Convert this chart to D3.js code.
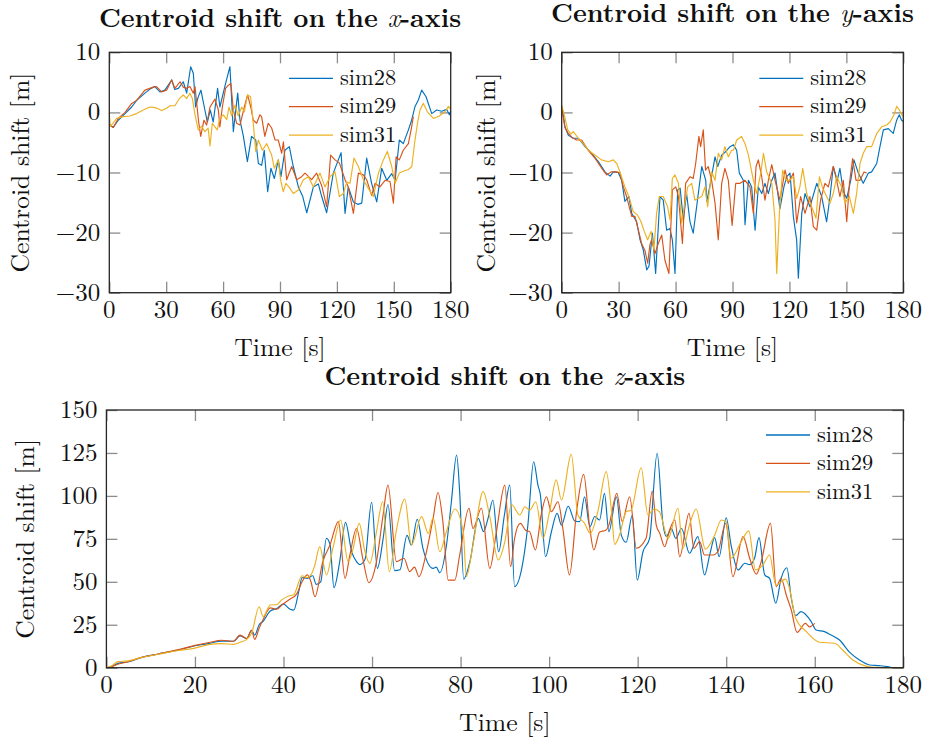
<!DOCTYPE html>
<html>
<head>
<meta charset="utf-8">
<script src="https://cdn.jsdelivr.net/npm/d3@7"></script>
<style>
  html, body { margin: 0; padding: 0; background: #fff; }
</style>
</head>
<body>
<svg id="chart" width="927" height="741"></svg>
<script>
// ---- Series names and colours ----
const seriesNames = ["sim28", "sim29", "sim31"];
const seriesColors = ["#0072BD", "#D95319", "#EDB120"];

// ---- Tick values ----
const topTimeTicks = [0, 30, 60, 90, 120, 150, 180];
const topShiftTicks = [10, 0, -10, -20, -30];
const bottomTimeTicks = [0, 20, 40, 60, 80, 100, 120, 140, 160, 180];
const bottomShiftTicks = [0, 25, 50, 75, 100, 125, 150];

// ---- Centroid shift along x: [time s, shift m] ----
const xShift28 = [[0,-2],[2.1,-2.5],[4.7,-1.3],[8.3,-0.2],[11.8,0.9],[14.4,2],[18.8,3.2],[22,4],[24,4.3],[26.7,3.4],[29.3,3.7],[31,4.5],[32.9,5.4],[34.5,3.8],[36.4,4],[39,5.1],[40.8,3.2],[42.9,7.6],[44.3,6.5],[45.5,0.9],[46.8,2.5],[48.3,3.7],[50.4,0.4],[51.7,-1.6],[53.2,0.4],[54.8,-1.6],[57.1,4],[58.3,0.9],[61.3,4.8],[63.6,7.6],[65.4,-3.2],[67.7,3.2],[68.9,-1.3],[70.7,-4],[72.8,-8.2],[75,-4],[77.2,-4.6],[78.6,-8.5],[80.3,-8.8],[81.7,-6.3],[83.5,-13.2],[85.2,-9.3],[87,-11],[89.1,-7.9],[90.5,-10.7],[92.6,-6.3],[94.9,-5.7],[97,-9],[99.7,-12.4],[102,-14],[104.1,-16.7],[107.6,-12.4],[110.2,-11.9],[112,-14],[114.6,-16.7],[118.1,-10.1],[122.2,-6.7],[124.3,-16.8],[126,-12.4],[128.7,-14.9],[131,-15.3],[133.1,-15.1],[135.7,-7.6],[138.3,-11.8],[141,-14.9],[143.6,-9.3],[146.3,-11.3],[148.9,-10.2],[150.7,-11.3],[152.9,-4.6],[155,-5.2],[157.7,-2.9],[159.4,-1.3],[161.2,1],[163,2.1],[164.7,3.7],[167,2.6],[170,-0.2],[172.6,0.4],[175.3,0.2],[177.9,0.5],[179.3,-0.4],[180,0.2]];
const xShift29 = [[0,-2],[2.1,-2.5],[4.7,-1],[8.3,0],[11.8,1.5],[14.4,2],[18.8,3.7],[23.2,4.2],[24.9,4.3],[27.6,3.4],[30.2,3.7],[32.9,5.4],[34.6,4],[37.3,5.1],[39,4.2],[40.8,4],[42.5,4.3],[44.3,3.2],[45.2,4.3],[47,-1.3],[48.2,-4],[49.9,-1.3],[51.3,-2.1],[53.1,0.9],[55.7,2.2],[57.5,0.4],[58.3,-2.4],[59.6,0.9],[61.3,4],[62.7,4.5],[64.1,4.8],[65.4,0.4],[67.1,-1.8],[68.9,-2.1],[71.2,0.9],[72.9,2.9],[74.6,0.9],[75.9,-1.3],[77.7,-1.8],[79.4,-0.4],[80.3,-0.7],[82,-4],[83.8,-1.8],[85.6,-2.6],[87.4,-4.6],[89.1,-4.6],[90.9,-6.8],[91.8,-4.9],[93.5,-11.2],[96.2,-9],[98.8,-11.2],[101.4,-10.7],[103.2,-10.1],[106.7,-11.2],[109.3,-10.1],[112,-12.2],[114.6,-15.7],[116.7,-7.1],[119,-7.9],[121.3,-8.4],[124.3,-11.2],[126,-12.4],[128.7,-16.8],[131.3,-10.1],[133.9,-10.4],[135.7,-11.2],[138.3,-13.8],[140.1,-11.8],[142.7,-12.4],[145.4,-11.3],[148,-11.5],[149.8,-15.1],[151.2,-7.4],[152.9,-7.9],[155,-6.3],[157.7,-5.2],[159.4,-2.4],[160.3,-0.7]];
const xShift31 = [[0,0],[0.5,-2.3],[1.2,-2.1],[3.9,-1],[7.4,-0.7],[10.9,-0.6],[14.4,-0.2],[17.9,0.4],[21.4,0.9],[24.1,0.8],[25.8,0.6],[27.6,0.3],[30.2,0.7],[32,1.1],[34.6,1.1],[36.7,2.2],[39,2.9],[40.8,2.3],[42.5,3.2],[43.8,2.3],[45.2,-0.4],[46.9,-2.9],[48.7,-2.3],[50.4,-3.2],[52.1,-2.6],[53.1,-5.6],[54.3,-1.8],[55.7,-2.4],[56.9,-2.9],[58.3,-1],[60.1,-0.4],[61.9,-1.2],[63.1,0.9],[64.5,-0.6],[66.3,1.2],[68,-0.6],[69.8,0.9],[71.2,0.1],[72.9,2.9],[74.5,2.6],[75.9,-1.8],[77.2,-6.5],[78.6,-4.6],[80.7,-6.3],[83,-5.2],[85.6,-7.1],[87,-9.3],[89.1,-7.9],[90.3,-11.2],[91.7,-13.2],[93.1,-11.8],[95.2,-12.6],[97,-13.5],[99.7,-12.9],[102.3,-11.2],[105,-10.7],[107.6,-12.4],[111.1,-10.1],[113.7,-12.4],[116.4,-10.7],[119,-9.9],[121.3,-14],[123.4,-13.5],[125.2,-11.6],[126.9,-11.8],[129,-7.6],[131.3,-9],[134,-11.2],[136.1,-12.4],[139.2,-14],[141.9,-10.1],[144.5,-7.9],[146.6,-6.5],[148.9,-9],[150.7,-11.8],[152.9,-10.1],[155,-9.8],[157.7,-9.5],[159.5,-9],[161,-5],[162.5,-1.8],[163.8,0.4],[165.6,1.5],[167.7,0.1],[170.9,-1],[174,-0.6],[177,0.1],[178.8,1],[180,0.5]];

// ---- Centroid shift along y: [time s, shift m] ----
const yShift28 = [[0,1],[0.9,-0.5],[1.7,-2.4],[3.5,-3.8],[6.1,-4.3],[8.8,-4.3],[12.3,-5.7],[15.8,-6.8],[19.3,-8.2],[22.8,-9.9],[25.5,-10.6],[27.2,-9.9],[29.8,-10],[31.6,-11.3],[33.3,-14.8],[35.4,-14],[36.9,-16.8],[39.5,-18.2],[41.3,-21.2],[43,-22.9],[44.8,-26.2],[46,-25.6],[47.8,-20.1],[49.5,-26.8],[51.8,-14],[53.5,-14.6],[55.3,-19.6],[57,-19.3],[58.3,-21.2],[59.7,-26.8],[61.1,-12.9],[62.4,-12.6],[64.1,-17.9],[65.8,-13.5],[67.6,-18.2],[69.3,-20.1],[71.1,-15.7],[73.8,-9],[75.9,-11.3],[76.4,-14.8],[78,-12.4],[80.8,-7.4],[82.2,-9],[84.3,-7.1],[86.5,-6.5],[88.7,-5.7],[90.5,-5.4],[92.2,-6.3],[93.6,-10.1],[95.7,-11.3],[96.6,-18.7],[98.4,-11.3],[100.1,-12.4],[101.9,-19.6],[103.6,-12.4],[105.4,-13.5],[107.1,-11.8],[108.9,-13.5],[110.7,-11.3],[112.4,-10.1],[115,-16],[117.1,-12.4],[118.6,-10.7],[120.3,-10.1],[122.1,-17.4],[123.8,-21.2],[124.7,-27.6],[126.5,-16.8],[128.2,-13.5],[130.8,-15.7],[134.4,-11.8],[137,-14],[139.6,-18.2],[141.4,-14],[143.1,-9],[145.2,-11.3],[146.6,-9.3],[148.4,-13.2],[150.2,-14.3],[152.3,-11.3],[154,-7.9],[156.3,-10.1],[158.9,-11.8],[161.6,-10.1],[163.3,-9.9],[166,-8.5],[167.7,-5.7],[169.5,-2.9],[172.1,-2.7],[174.7,-3.5],[176.5,-1.3],[177.9,-0.4],[179.1,-1.3],[180,-1.5]];
const yShift29 = [[0,0.7],[0.9,-1],[1.7,-2.5],[3.5,-3.5],[5.5,-4.2],[7.9,-4.6],[10.5,-4.6],[14,-6.3],[17.5,-7.6],[21.1,-9.3],[23.7,-10.4],[26,-9.9],[29,-9.9],[30.7,-10.1],[32.5,-12.4],[34.2,-14],[36.9,-17.3],[38.6,-17.3],[40.4,-19.6],[42.1,-21.8],[43.9,-23],[45.3,-25.1],[46.5,-22],[47.4,-21.2],[49.2,-23.5],[50.9,-21.8],[52.7,-20.4],[54.4,-24.6],[56.5,-26.8],[58.3,-12.9],[60.1,-12.4],[61.5,-14],[63.6,-21.8],[65.3,-11.8],[67.6,-10.7],[69.3,-11],[70.6,-8.5],[72.3,-4],[73.2,-5.7],[74.6,-2.9],[75.8,-9.6],[77.2,-9],[79,-11.3],[80.8,-15.1],[82.5,-21.2],[84.3,-11.8],[86,-9.3],[87.8,-11.3],[89.8,-18.8],[91.7,-11.8],[94,-11.8],[96.6,-11.3],[99.2,-12.4],[101,-16.8],[102.4,-9],[103.6,-7.9],[105.4,-10.7],[107.1,-14.6],[108.9,-11.3],[110.7,-8.7],[112.4,-11.3],[115,-14.6],[117.7,-9.6],[119.4,-11.8],[122.1,-10.1],[123.8,-18.4],[125.9,-14],[128.2,-16.8],[130.8,-14],[132.6,-19],[134.4,-19.6],[136.4,-14.6],[138.7,-11.8],[140.5,-12.4],[143.1,-9],[144.9,-11.3],[146.6,-14],[148.4,-11.3],[150.2,-18.2],[151.6,-11.9],[153.3,-7.7],[155.1,-11.3],[157.2,-11.3],[159.3,-9.9],[160.7,-10.1]];
const yShift31 = [[0,1.2],[1.4,-0.5],[3.2,-2.9],[4.9,-3.6],[6.1,-3.2],[8.8,-4.3],[11.4,-5.2],[14,-6.3],[17.5,-7.1],[21,-7.9],[24.6,-8.2],[27.2,-7.9],[29,-8.5],[30.7,-9.9],[33.3,-12.4],[35.4,-14],[37.7,-16.5],[40,-17.1],[41.8,-18.2],[43.5,-19.8],[45.3,-21.2],[47.1,-19.8],[48.6,-22.9],[50,-16.8],[51.4,-14],[53.5,-14],[55.8,-15.7],[57.1,-17.9],[58.3,-11],[59.7,-10.4],[61.5,-11.8],[63.2,-18.4],[64.6,-15.7],[66.4,-12.4],[68.5,-11.8],[70.2,-14.6],[72,-14.3],[73.8,-14],[75.5,-12.4],[76.9,-15.7],[79,-9.9],[80.8,-11.3],[82.5,-6.8],[84.3,-7.9],[86,-5.7],[87.8,-7.4],[89.5,-6.3],[90.5,-6.3],[92.2,-4.6],[94.8,-4],[96.6,-5.2],[98.4,-7.1],[101,-11.3],[102.7,-13.5],[104.9,-10.1],[106.3,-6.8],[108,-9.9],[110.7,-11.8],[112.4,-17.9],[113.3,-26.8],[114.7,-16.8],[116.4,-9.6],[118.3,-11.3],[120,-11.3],[122.1,-10.7],[123.8,-14.3],[125.5,-12.4],[127,-9.3],[129.1,-13.5],[131.7,-15.7],[134,-17.6],[135.8,-10.7],[137.5,-12.6],[139.6,-14],[141.4,-15.1],[143.1,-13.5],[144.9,-10.7],[147.5,-12.4],[149.3,-15.1],[151.6,-14],[153.7,-16.8],[155.4,-13.5],[157.2,-8.5],[158.9,-6.8],[160.7,-5.7],[163.3,-5.7],[166,-3.5],[168.6,-2.4],[171.2,-2.1],[173,-1.6],[175.1,-0.4],[176.5,1],[177.9,0.4],[179.7,-0.7]];

// ---- Centroid shift along z: [time s, shift m] ----
const zShift28 = [[0,0],[1,0.5],[2.6,2.5],[5,3.5],[8,6],[11.7,8],[16.3,10.3],[20,12.8],[23,14],[26,15.5],[28.7,15.4],[30.2,18.5],[31.7,17],[32.8,21.7],[33.5,19],[34.5,25],[35.4,27],[37,33],[38.5,34.5],[40,37],[41.5,34],[42.3,33.5],[43.5,45],[44.2,52.4],[45.4,52],[46.6,53.5],[47.4,48.5],[48.4,50],[49.7,75.3],[50.5,72],[51.4,46.6],[52.7,61.7],[54,84.6],[55.4,67.5],[56.5,61.7],[57.2,60],[58.4,63],[59.9,96.3],[61.2,57.8],[62.5,75],[63.6,95],[65.1,56.5],[66.3,57],[67.9,77],[68.9,71.4],[70.2,86.4],[71.5,69.5],[73.8,57.8],[74.5,58.5],[75.3,55.3],[76.8,71],[77.9,96],[79.1,123.8],[79.8,102],[80.7,51.6],[82.1,61.7],[84,86.9],[85.2,79.2],[86.2,86.9],[87.3,97.6],[88.6,67.5],[89.9,88.9],[91.1,106.3],[92.2,47.2],[94.1,61.7],[95.2,83],[96.5,119.9],[97.5,106],[98,101],[99.2,64.6],[100.5,79],[101.8,89.8],[102.8,83],[104.3,94],[105.8,85.4],[106.9,85],[108,99.5],[109.2,82],[110.3,88],[111.4,86],[112.5,101.5],[113.5,79.2],[115.2,99.5],[116.3,77.2],[117.4,73],[118.8,88.9],[119.9,51],[121.2,67.5],[122.7,75.3],[124.4,124.8],[125.7,84],[126.5,76.3],[127.6,81],[128.6,75.3],[129.9,81],[131.7,66.6],[133.6,76.3],[135.1,54],[136.3,66],[137.4,75.7],[138.4,64.6],[140,87.3],[141.1,71.4],[142.7,56.9],[144.2,60.8],[145.3,60],[146.4,63.7],[147.4,75.7],[148.7,54],[149.8,52],[151.2,37.5],[152.4,52],[153.7,58.2],[154.7,40.4],[155.7,30.3],[156.9,32.6],[159.2,26.8],[160.3,21.9],[162.2,21],[163.7,19],[165.6,16.1],[167.9,8.9],[170.1,4.5],[172.4,1.6],[174.6,1.2],[176.5,0.6],[177.6,0],[180,0]];
const zShift29 = [[0,0],[1,0.5],[2.6,2],[5,3.5],[8,6],[11.7,8],[16.3,10.5],[20,13],[23.4,14.8],[26,16],[28.7,15.4],[30.2,19],[31.7,17],[32.8,21.7],[33.5,16.5],[34.5,23],[35.4,28],[37,34.8],[38.5,34],[39.6,36.5],[41.5,40],[43,43],[44.2,50],[45.4,54],[46.2,50],[47.1,41.3],[48.9,62],[50.5,71.4],[52.4,85],[53.9,52],[55,65.6],[56.5,81],[57.9,63.7],[59.3,49.5],[61,61.7],[62.5,89],[63.6,106.3],[65.5,61.7],[67.2,63.7],[68.5,55.9],[69.6,58.5],[70.6,53],[72.3,67.5],[73.8,87],[74.9,102],[76,85],[77.2,51],[78.7,51],[79.8,65.6],[81.9,92.8],[82.8,81],[84.7,92.8],[86.6,57.8],[88.1,79.2],[90,106.3],[91.3,58.8],[92.2,75.3],[93.5,84],[94.7,80],[95.6,79.2],[96.9,68.5],[98.2,88.9],[99.4,99.5],[100.5,90.8],[102,96.6],[103.1,81],[104.6,54],[106.2,90.8],[107.8,112.5],[109.2,81],[110.1,68.5],[111.4,79],[112.8,80],[113.5,83],[115.3,101.5],[116.5,85],[118.2,99.5],[119.7,69.5],[121.9,75.3],[123.3,102.8],[124.2,83],[125,78.2],[126.1,70.4],[127.2,80],[128.4,86],[129.5,64.6],[131.6,89.8],[132.7,69.5],[134,73.4],[135.1,65.6],[137,65.6],[138.1,67.5],[139.9,84],[141.5,53],[143.8,76.3],[145.3,63.7],[146.8,54.4],[147.9,61.7],[150,84],[151.3,47.2],[152.4,51.9],[153.6,42],[154.7,33.6],[156,20.6],[157.9,25.8],[158.8,23.8],[160,25.8]];
const zShift31 = [[0,0],[1,0.8],[2.6,3.5],[4.9,4],[8,6],[11.7,7.8],[16.3,10],[20,11.4],[23.4,13.6],[26,14],[28.7,13.6],[30.2,14.8],[31.7,16.5],[32.8,20],[34.5,35.5],[35.4,29.7],[37,36.5],[38.5,36.8],[39.6,39.5],[41.5,42],[42.3,42.5],[44.2,53.5],[45.4,52.5],[46.2,54],[47,59],[48.2,70.5],[49.7,54],[51.2,70],[52.9,86],[54.6,61.7],[55.7,69],[57.1,84],[58.4,67.5],[59.5,60.7],[61,79],[62.4,96.6],[63.9,55.9],[65.5,80],[67.4,98.2],[68.9,71.4],[71.2,87.9],[72.7,78.2],[73.8,87.3],[75.3,67.5],[76.8,79.2],[78.7,92.4],[80.6,79.2],[81.3,53],[82.8,71.4],[85.1,102.5],[86.6,87.9],[88.5,62.7],[90,73.4],[91.5,95],[93.4,88.9],[94.5,93.7],[95.6,91.7],[97,96.6],[98.6,75.3],[100.1,90.8],[101.6,109.3],[102.8,97.6],[105,124.2],[106.5,88.9],[108,84],[109.3,78.2],[111,90.8],[112.9,114.1],[114.1,90.8],[114.8,71.8],[115.9,77.2],[117.4,90.8],[118.5,91.7],[120.8,116.4],[122.3,88.9],[123.8,92.4],[124.9,90.8],[126.9,75.3],[129.1,92.8],[130.2,69.5],[131.7,83],[133.2,92.4],[135.3,69],[137.4,77.2],[138.9,86],[140,85],[141.1,63.7],[143.4,73.4],[145.1,79.6],[146.6,56.9],[148.3,59.8],[149.8,65.6],[151.2,48.1],[153.4,51.6],[154.2,47],[155.7,28.7],[158.1,21],[161.1,14.8],[164.5,14.2],[166.3,10.3],[168.6,4.5],[171.2,1.2],[173.1,0.2],[180,0]];

// ---- Panel layout ----
const FONT = '"Latin Modern Roman", "CMU Serif", "Liberation Serif", serif';
const svg = d3.select("#chart");

const panels = [
  { axis: "x", series: [xShift28, xShift29, xShift31], left: 109.3, right: 450.7, top: 52.3, bottom: 292.7,
    xDomain: [0, 180], yDomain: [-30, 10], xTicks: topTimeTicks, yTicks: topShiftTicks,
    titleY: 26.5, ylabX: 28.5, legendX: 289, legendY: 78.3, curve: d3.curveLinear },
  { axis: "y", series: [yShift28, yShift29, yShift31], left: 561.7, right: 903.3, top: 52.3, bottom: 292.7,
    xDomain: [0, 180], yDomain: [-30, 10], xTicks: topTimeTicks, yTicks: topShiftTicks,
    titleY: 21.5, ylabX: 495, legendX: 759.3, legendY: 78.3, curve: d3.curveLinear },
  { axis: "z", series: [zShift28, zShift29, zShift31], left: 106.4, right: 903.3, top: 410, bottom: 667.7,
    xDomain: [0, 180], yDomain: [0, 150], xTicks: bottomTimeTicks, yTicks: bottomShiftTicks,
    titleY: 385, ylabX: 34, legendX: 766, legendY: 435, curve: d3.curveMonotoneX }
];

const fmt = v => (v < 0 ? "\u2212" + Math.abs(v) : String(v));

panels.forEach(p => {
  const x = d3.scaleLinear().domain(p.xDomain).range([p.left, p.right]);
  const y = d3.scaleLinear().domain(p.yDomain).range([p.bottom, p.top]);
  const g = svg.append("g");
  const w = p.right - p.left, h = p.bottom - p.top;
  const cx = (p.left + p.right) / 2, cy = (p.top + p.bottom) / 2;

  // inward tick marks on all four sides
  const tickLen = 11;
  const styleAxis = sel => {
    sel.select(".domain").remove();
    sel.selectAll(".tick line").attr("stroke", "#8c8c8c").attr("stroke-width", 1.3);
    sel.selectAll(".tick text").remove();
  };
  g.append("g").attr("transform", `translate(0,${p.bottom})`)
    .call(d3.axisBottom(x).tickValues(p.xTicks).tickSizeInner(-tickLen).tickSizeOuter(0)).call(styleAxis);
  g.append("g").attr("transform", `translate(0,${p.top})`)
    .call(d3.axisTop(x).tickValues(p.xTicks).tickSizeInner(-tickLen).tickSizeOuter(0)).call(styleAxis);
  g.append("g").attr("transform", `translate(${p.left},0)`)
    .call(d3.axisLeft(y).tickValues(p.yTicks).tickSizeInner(-tickLen).tickSizeOuter(0)).call(styleAxis);
  g.append("g").attr("transform", `translate(${p.right},0)`)
    .call(d3.axisRight(y).tickValues(p.yTicks).tickSizeInner(-tickLen).tickSizeOuter(0)).call(styleAxis);

  // tick labels
  g.selectAll(".xt").data(p.xTicks).join("text")
    .attr("x", d => x(d)).attr("y", p.bottom + 25.5)
    .attr("text-anchor", "middle").style("font-family", FONT).style("font-size", "25px").attr("fill", "#111")
    .text(fmt);
  g.selectAll(".yt").data(p.yTicks).join("text")
    .attr("x", p.left - 9).attr("y", d => y(d)).attr("dy", "0.32em")
    .attr("text-anchor", "end").style("font-family", FONT).style("font-size", "25px").attr("fill", "#111")
    .text(fmt);

  // series lines
  const line = d3.line().x(d => x(d[0])).y(d => y(d[1])).curve(p.curve);
  p.series.forEach((s, i) => {
    g.append("path").datum(s)
      .attr("fill", "none").attr("stroke", seriesColors[i])
      .attr("stroke-width", 1.15).attr("stroke-linejoin", "round")
      .attr("d", line);
  });

  // frame
  g.append("rect").attr("x", p.left).attr("y", p.top).attr("width", w).attr("height", h)
    .attr("fill", "none").attr("stroke", "#262626").attr("stroke-width", 1.3);

  // legend
  seriesNames.forEach((name, i) => {
    const ly = p.legendY + i * 28.4;
    g.append("line").attr("x1", p.legendX).attr("x2", p.legendX + 44)
      .attr("y1", ly).attr("y2", ly)
      .attr("stroke", seriesColors[i]).attr("stroke-width", 1.3);
    g.append("text").attr("x", p.legendX + 51).attr("y", ly + 6.7)
      .style("font-family", FONT).style("font-size", "22.4px").attr("fill", "#111").text(name);
  });

  // title
  const t = g.append("text").attr("x", cx).attr("y", p.titleY)
    .attr("text-anchor", "middle").style("font-family", FONT).style("font-size", "26.3px")
    .style("font-weight", "bold").attr("fill", "#111");
  t.append("tspan").text("Centroid shift on the ");
  t.append("tspan").style("font-style", "italic").style("font-weight", "normal").text(p.axis);
  t.append("tspan").text("-axis");

  // axis labels
  g.append("text").attr("x", cx).attr("y", p.bottom + 63)
    .attr("text-anchor", "middle").style("font-family", FONT).style("font-size", "25.7px").attr("fill", "#111")
    .text("Time [s]");
  g.append("text").attr("transform", `translate(${p.ylabX},${cy}) rotate(-90)`)
    .attr("text-anchor", "middle").style("font-family", FONT).style("font-size", "25.7px").attr("fill", "#111")
    .text("Centroid shift [m]");
});
</script>
</body>
</html>
